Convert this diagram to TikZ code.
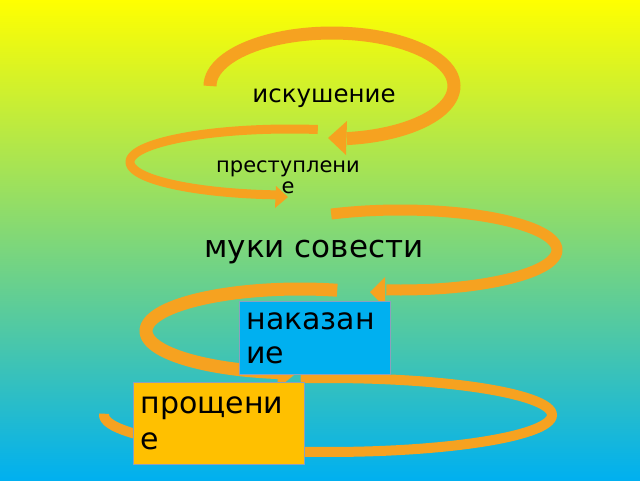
\documentclass[tikz,border=0pt]{standalone}
\usepackage{fontspec}
\setmainfont{DejaVu Sans}
\definecolor{bandorange}{RGB}{246,162,32}
\definecolor{skyblue}{RGB}{0,176,240}
\definecolor{leafgreen}{RGB}{128,214,116}
\definecolor{sunyellow}{RGB}{255,255,0}
\definecolor{boxgold}{RGB}{255,192,0}
\definecolor{boxedge}{RGB}{140,160,190}
\begin{document}
\begin{tikzpicture}[x=1pt, y=-1pt, line cap=butt,
    band/.style={draw=bandorange},
    head/.style={fill=bandorange},
    word/.style={inner sep=0pt, anchor=base, text=black},
    stagebox/.style={draw=boxedge, line width=0.8pt, anchor=north west,
        inner xsep=7pt, inner ysep=0pt, align=left, text=black}]

    % page size and background
    \useasboundingbox (0,0) rectangle (640,480);
    \shade[top color=sunyellow, middle color=leafgreen, bottom color=skyblue]
        (0,0) rectangle (640,480);

    % first loop, round the temptation
    \draw[band, line width=13pt] plot[domain=180:443, samples=80]
        ({332+122*cos(\x)}, {86+53*sin(\x)});
    \fill[head] (328,138) -- (347,121) -- (346,155) -- cycle;

    % second loop, round the crime
    \draw[band, line width=9pt] plot[domain=280:95, samples=80]
        ({290+160*cos(\x)}, {162+33*sin(\x)});
    \fill[head] (288,197) -- (276,186) -- (275,208) -- cycle;

    % third loop, round the remorse
    \draw[band, line width=11pt] plot[domain=244:455, samples=80]
        ({400+157*cos(\x)}, {250+40*sin(\x)});
    \fill[head] (370,292) -- (385,277) -- (385,307) -- cycle;

    % fourth loop, round the punishment
    \draw[band, line width=13pt] plot[domain=284:98, samples=80]
        ({300+154*cos(\x)}, {331+42*sin(\x)});
    \fill[head] (294,375) -- (279,360) -- (277,389) -- cycle;

    % last loop, round the forgiveness
    \draw[band, line width=10pt] plot[domain=-97:182, samples=90]
        ({328+224*cos(\x)}, {415+37*sin(\x)});

    % stage labels
    \node[word, font=\fontsize{24.5}{27}\selectfont] (temptation) at (324,102)
        {искушение};
    \node[word, align=center, font=\fontsize{21}{21}\selectfont] (crime)
        at (288,193) {преступлени\\е};
    \node[word, font=\fontsize{31}{34}\selectfont] (remorse) at (314,257)
        {муки совести};

    % boxes
    \node[stagebox, fill=skyblue, text width=137pt, minimum height=73pt,
        font=\fontsize{30}{34}\selectfont] (punishment) at (239,301)
        {наказан\\ие};
    \node[stagebox, fill=boxgold, text width=157pt, minimum height=82pt,
        font=\fontsize{30}{36}\selectfont] (forgiveness) at (133,382)
        {прощени\\е};

\end{tikzpicture}
\end{document}
